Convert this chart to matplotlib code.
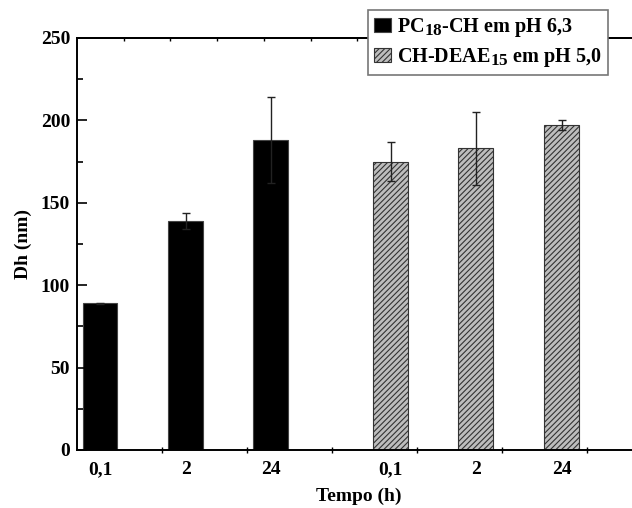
import numpy as np
import matplotlib
matplotlib.use("Agg")
import matplotlib.pyplot as plt
from matplotlib.ticker import MultipleLocator, FixedLocator
import matplotlib._mathtext as _mt

# -----------------------------
# Data (Dh in nm vs time)
# -----------------------------
times = ["0,1", "2", "24"]
pc18_dh = [89, 139, 188]
pc18_err = [0.5, 5, 26]
deae_dh = [175, 183, 197]
deae_err = [12, 22, 3]

label_pc = r"PC$_{18}$-CH em pH 6,3"
label_deae = r"CH-DEAE$_{15}$ em pH 5,0"

# -----------------------------
# Style (Origin-like, bold serif)
# -----------------------------
plt.rcParams["font.family"] = ["Liberation Serif", "DejaVu Serif"]
plt.rcParams["font.weight"] = "bold"
plt.rcParams["mathtext.fontset"] = "custom"
plt.rcParams["mathtext.rm"] = "Liberation Serif:bold"
plt.rcParams["mathtext.bf"] = "Liberation Serif:bold"
plt.rcParams["mathtext.default"] = "bf"
plt.rcParams["hatch.linewidth"] = 0.8
# Origin draws subscripts almost full size
_mt.SHRINK_FACTOR = 0.85

W, H = 632, 508
fig = plt.figure(figsize=(W / 100, H / 100), dpi=100)
# axes run past the right edge, like the cropped original
ax = fig.add_axes([77 / W, 58 / H, 563 / W, 412 / H])

x_pc = np.array([0.27, 1.28, 2.28])
x_deae = np.array([3.69, 4.69, 5.70])
width = 0.41

ax.bar(x_pc, pc18_dh, width, color="black", edgecolor="#444444", linewidth=0.8,
       label=label_pc)
ax.bar(x_deae, deae_dh, width, color="#bdbdbd", edgecolor="#333333", linewidth=0.8,
       hatch="//////", label=label_deae)

ax.errorbar(x_pc, pc18_dh, yerr=pc18_err, fmt="none", ecolor="#222222",
            elinewidth=1, capsize=3.2, capthick=1)
ax.errorbar(x_deae, deae_dh, yerr=deae_err, fmt="none", ecolor="#222222",
            elinewidth=1, capsize=3.2, capthick=1)

ax.set_xlim(0, 563 / 85)
ax.set_ylim(0, 250)

# y ticks: major every 50, minor every 25, pointing in
ax.yaxis.set_major_locator(MultipleLocator(50))
ax.yaxis.set_minor_locator(MultipleLocator(25))
ax.tick_params(axis="y", which="major", direction="in", length=7, width=1.2,
               labelsize=14, pad=5)
ax.tick_params(axis="y", which="minor", direction="in", length=4, width=1.2)

# x: labels at bar centres, tick marks between them
ax.set_xticks(np.concatenate([x_pc, x_deae]))
ax.set_xticklabels(times + times)
ax.xaxis.set_minor_locator(FixedLocator([1, 2, 3, 4, 5, 6]))
ax.tick_params(axis="x", which="major", length=0, labelsize=14, pad=8)
ax.tick_params(axis="x", which="minor", direction="inout", length=5, width=1)

# small ticks along the top spine
top = ax.secondary_xaxis("top")
top.set_xticks(np.arange(1, 15) * 46.7 / 85)
top.tick_params(direction="in", length=2.5, width=1, labeltop=False)
top.spines["top"].set_linewidth(1.4)

for s in ax.spines.values():
    s.set_linewidth(1.4)

ax.set_ylabel("Dh (nm)", fontsize=14, fontweight="bold", labelpad=6)
ax.set_xlabel("Tempo (h)", fontsize=14, fontweight="bold", labelpad=7)

leg = ax.legend(loc="upper left", bbox_to_anchor=(368 / W, 1 - 10 / H),
                bbox_transform=fig.transFigure, fontsize=14.5, frameon=True,
                fancybox=False, edgecolor="#777777", handlelength=0.85,
                handleheight=0.65, handletextpad=0.3, borderpad=0.3,
                labelspacing=0.35, borderaxespad=0)
leg.get_frame().set_linewidth(1.2)
leg.get_frame().set_alpha(1)
for t in leg.get_texts():
    t.set_fontweight("bold")

fig.savefig("out.png", dpi=100)
